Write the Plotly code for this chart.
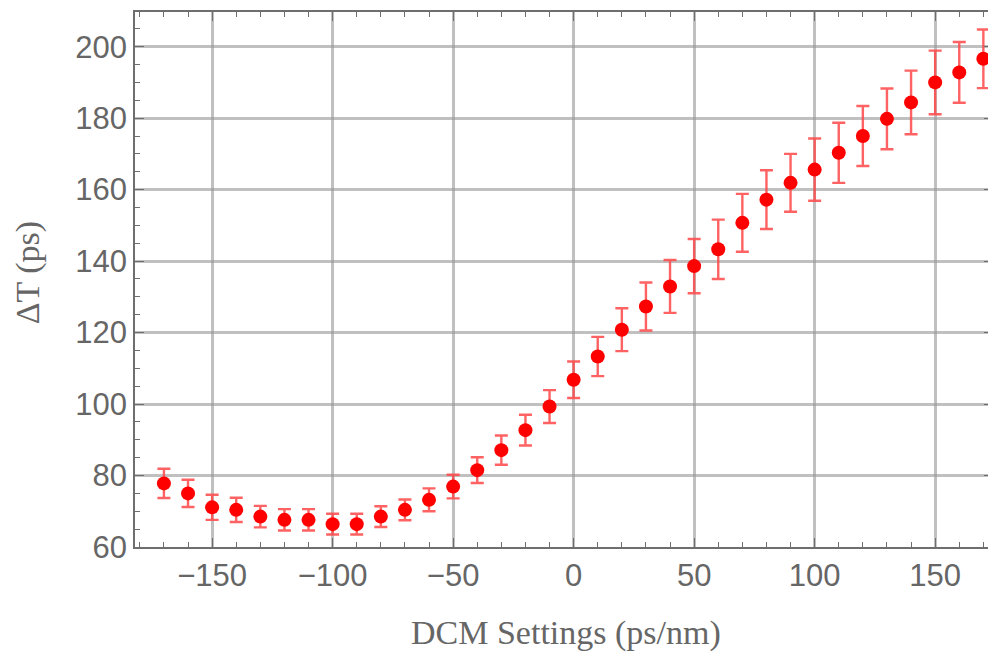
import plotly.graph_objects as go

dcm = [-170, -160, -150, -140, -130, -120, -110, -100, -90, -80, -70, -60, -50,
       -40, -30, -20, -10, 0, 10, 20, 30, 40, 50, 60, 70, 80, 90, 100, 110, 120,
       130, 140, 150, 160, 170]
delta_t = [77.8, 75.0, 71.1, 70.4, 68.5, 67.6, 67.6, 66.4, 66.4, 68.5, 70.4, 73.2,
           76.9, 81.5, 87.1, 92.7, 99.3, 106.8, 113.3, 120.8, 127.3, 132.9, 138.6,
           143.3, 150.7, 157.2, 161.9, 165.6, 170.3, 175.0, 179.8, 184.4, 190.0,
           192.8, 196.6]
err = [4.1, 3.8, 3.5, 3.4, 3.0, 3.0, 3.0, 2.9, 2.9, 2.9, 2.9, 3.2, 3.3, 3.6, 4.1,
       4.3, 4.6, 5.1, 5.5, 6.0, 6.7, 7.4, 7.6, 8.3, 8.1, 8.2, 8.1, 8.7, 8.4, 8.4,
       8.5, 8.9, 8.9, 8.5, 8.2]

x_ticks = [-150, -100, -50, 0, 50, 100, 150]
y_ticks = [60, 80, 100, 120, 140, 160, 180, 200]

fig = go.Figure()
fig.add_trace(go.Scatter(
    x=dcm, y=delta_t, mode="markers",
    marker=dict(color="#ff0000", size=14),
    error_y=dict(type="data", array=err, visible=True,
                 color="rgba(255,70,70,0.85)", thickness=2.4, width=6.5),
    showlegend=False,
))

axis_common = dict(
    showline=True, linecolor="#6e6e6e", linewidth=1.5, mirror="ticks",
    ticks="inside", ticklen=9, tickwidth=1.3, tickcolor="#6e6e6e",
    showgrid=True, gridcolor="rgba(150,150,150,0.6)", gridwidth=2.5,
    zeroline=False,
    tickfont=dict(family="Liberation Sans, Arial, sans-serif", size=31, color="#666666"),
)

fig.update_xaxes(
    range=[-182, 174], tickvals=x_ticks,
    ticktext=[("\u2212" + str(-v)) if v < 0 else str(v) for v in x_ticks],
    minor=dict(dtick=10, tick0=0, ticks="inside", ticklen=5, tickcolor="#6e6e6e",
               showgrid=False),
    **axis_common,
)
fig.update_yaxes(
    range=[60, 209.7], tickvals=y_ticks,
    minor=dict(dtick=5, tick0=0, ticks="inside", ticklen=5, tickcolor="#6e6e6e",
               showgrid=False),
    **axis_common,
)

fig.add_annotation(text="DCM Settings (ps/nm)", xref="paper", yref="paper",
                   x=0.502, y=-0.1607, xanchor="center", yanchor="middle",
                   showarrow=False,
                   font=dict(family="Liberation Serif, Times New Roman, serif",
                             size=34, color="#666666"))
fig.add_annotation(text="\u0394T (ps)", xref="paper", yref="paper",
                   x=-0.1244, y=0.512, xanchor="center", yanchor="middle",
                   textangle=-90, showarrow=False,
                   font=dict(family="Liberation Serif, Times New Roman, serif",
                             size=34, color="#666666"))

# page body has an 8px margin, so the figure is sized to end at the window edge
fig.update_layout(
    width=988, height=648,
    margin=dict(l=127, r=1, t=4, b=109),
    plot_bgcolor="white", paper_bgcolor="white",
)

fig.write_html("out.html")
